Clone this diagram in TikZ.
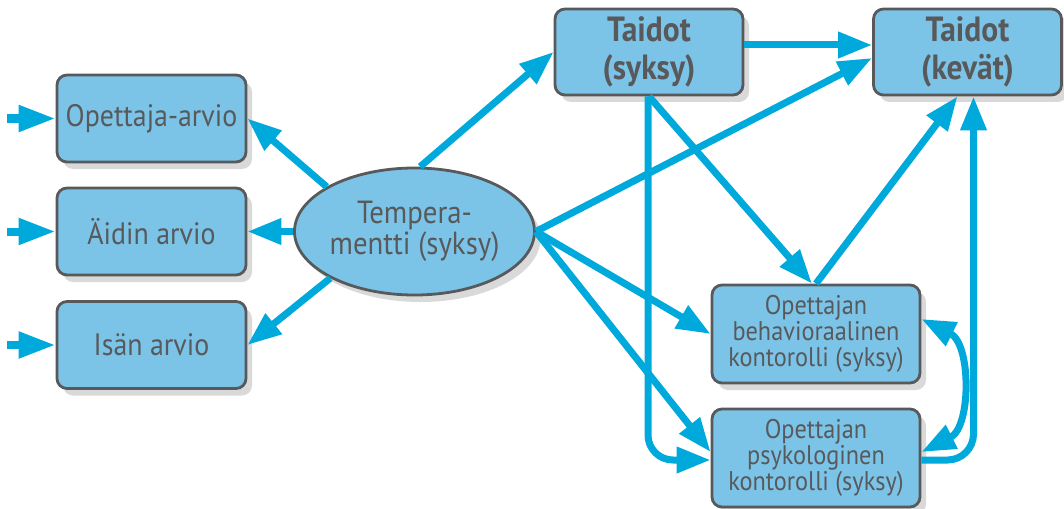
\documentclass[tikz,border=0pt]{standalone}
\usepackage{fontspec}
\setmainfont{PT Sans}[FakeStretch=0.9]
\usetikzlibrary{arrows.meta,shapes.geometric,shadows}
\definecolor{arrowblue}{HTML}{00A9DB}
\definecolor{boxblue}{HTML}{7BC4E8}
\definecolor{textgray}{HTML}{58595B}

\begin{document}
\begin{tikzpicture}[x=0.5pt,y=-0.5pt,
  >={Triangle[length=17pt,width=12.5pt]},
  box/.style={draw=textgray,line width=1.4pt,fill=boxblue,rounded corners=5pt,
    text=textgray,align=center,inner sep=0pt,
    drop shadow={shadow xshift=3pt,shadow yshift=-3.5pt,opacity=0.3}},
  ratebox/.style={box,minimum width=94.5pt,minimum height=43.5pt,font=\fontsize{15.5}{15.5}\selectfont},
  skillbox/.style={box,minimum width=94pt,minimum height=43pt,font=\fontsize{17.5}{19}\selectfont\bfseries},
  ctrlbox/.style={box,minimum width=104pt,minimum height=49pt,font=\fontsize{13.5}{13}\selectfont},
  moodellipse/.style={box,ellipse,minimum width=114.5pt,minimum height=63.5pt,font=\fontsize{16}{14.5}\selectfont},
  arr/.style={->,draw=arrowblue,line width=3.5pt},
  inarr/.style={->,draw=arrowblue,line width=4pt,>={Triangle[length=18.5pt,width=12.5pt]}}]
  \useasboundingbox (0,0) rectangle (1064,508);
  % rating boxes
  \node (opt) at (151.5,118.5) [ratebox] {Opettaja-arvio};
  \node (aid) at (151.5,231.5) [ratebox] {Äidin arvio};
  \node (isa) at (151.5,345) [ratebox] {Isän arvio};
  \coordinate (in1) at (7,118.5);
  \coordinate (in2) at (7,231.5);
  \coordinate (in3) at (7,345);
  \node (temp) at (414.5,231.5) [moodellipse] {Tempera-\\mentti (syksy)};
  % skills and control
  \node (ts) at (649,52) [skillbox] {Taidot\\(syksy)};
  \node (tk) at (967.5,52) [skillbox] {Taidot\\(kevät)};
  \node (beh) at (816,334) [ctrlbox] {Opettajan\\behavioraalinen\\kontorolli (syksy)};
  \node (psy) at (816,458) [ctrlbox] {Opettajan\\psykologinen\\kontorolli (syksy)};
  \draw[inarr] (in1) -- (opt);
  \draw[inarr] (in2) -- (aid);
  \draw[inarr] (in3) -- (isa);
  \draw[arr] (temp.153) -- (opt.east);
  \draw[arr] (temp) -- (aid);
  \draw[arr] (temp.209) -- (isa.east);
  \draw[arr] (temp.85) -- (ts.west);
  \draw[arr] (temp.east) -- ([yshift=-3pt]tk.west);
  \draw[arr] (temp.east) -- (beh.west);
  \draw[arr] (temp.east) -- ([yshift=3pt]psy.west);
  \draw[arr] ([yshift=3.5pt]ts.east) -- ([yshift=3.5pt]tk.west);
  \draw[arr] (ts.south) -- ([xshift=-2pt]beh.north);
  \draw[arr] (beh.north) -- ([xshift=-5pt]tk.south);
  \draw[arr,rounded corners=12.5pt] ([xshift=-0.5pt]ts.south) |- ([yshift=-1pt]psy.west);
  \draw[arr,rounded corners=13pt] ([yshift=-1pt]psy.east) -| ([xshift=3pt]tk.south);
  \draw[arr,<->] ([yshift=7.5pt]beh.east) .. controls +(50,25) and +(50,-25) .. ([yshift=3pt]psy.east);
\end{tikzpicture}
\end{document}
